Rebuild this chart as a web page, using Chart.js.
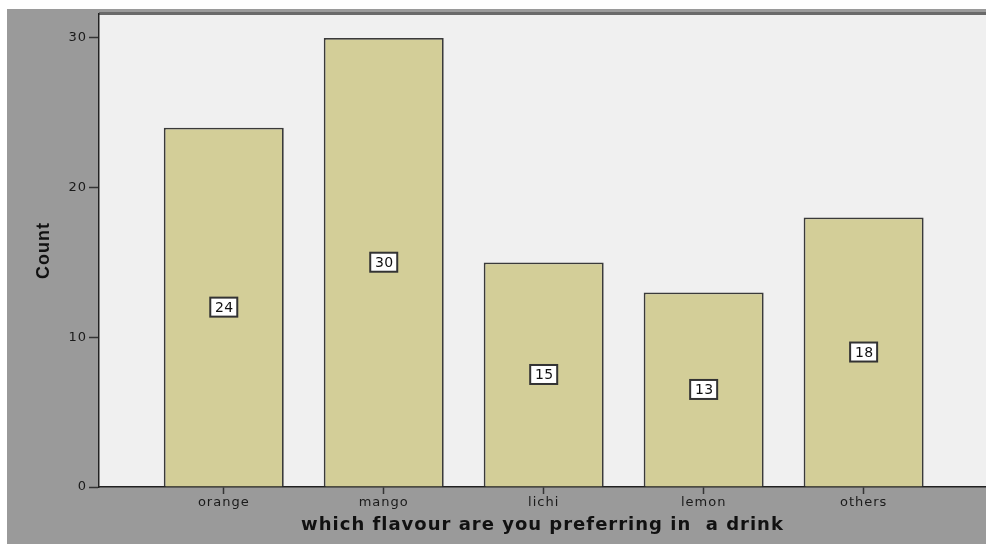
<!DOCTYPE html>
<html>
<head>
<meta charset="utf-8">
<script src="https://cdn.jsdelivr.net/npm/chart.js@4/dist/chart.umd.min.js"></script>
<style>
  html, body { margin: 0; padding: 0; background: #ffffff; }
  #wrap { width: 986px; height: 544px; }
</style>
</head>
<body>
<div id="wrap"><canvas id="c" width="986" height="544"></canvas></div>
<script>
const categories = ['orange', 'mango', 'lichi', 'lemon', 'others'];
const counts = [24, 30, 15, 13, 18];
const yTicks = [0, 10, 20, 30];
const xTitle = 'which flavour are you preferring in  a drink';
const yTitle = 'Count';

const backgroundPlugin = {
  id: 'bgPlugin',
  beforeDraw(chart) {
    const { ctx, chartArea: a, width, height } = chart;
    ctx.save();
    ctx.fillStyle = '#ffffff';
    ctx.fillRect(0, 0, width, height);
    ctx.fillStyle = '#9a9a9a';
    ctx.fillRect(7, 9, width - 7, height - 9);
    ctx.fillStyle = '#f0f0f0';
    ctx.fillRect(a.left, a.top, a.right - a.left, a.bottom - a.top);
    ctx.fillStyle = '#6a6a6a';
    ctx.fillRect(a.left, a.top - 2, a.right - a.left, 3);
    ctx.restore();
    // the reference text is horizontally wide; widen glyph spacing a little
    ctx.letterSpacing = '1px';
  }
};

const valueLabelPlugin = {
  id: 'valueLabels',
  afterDatasetsDraw(chart) {
    const { ctx } = chart;
    const meta = chart.getDatasetMeta(0);
    ctx.save();
    ctx.letterSpacing = '0.3px';
    ctx.font = '14px "DejaVu Sans", sans-serif';
    ctx.textAlign = 'center';
    ctx.textBaseline = 'middle';
    meta.data.forEach((bar, i) => {
      const v = chart.data.datasets[0].data[i].y;
      const cx = bar.x;
      const cy = (bar.y + bar.base) / 2;
      const w = 27, h = 19;
      ctx.fillStyle = '#ffffff';
      ctx.fillRect(cx - w / 2, cy - h / 2, w, h);
      ctx.strokeStyle = '#333333';
      ctx.lineWidth = 2;
      ctx.strokeRect(cx - w / 2, cy - h / 2, w, h);
      ctx.fillStyle = '#111111';
      ctx.fillText(String(v), cx + 0.5, cy + 1);
    });
    ctx.restore();
  }
};

new Chart(document.getElementById('c'), {
  type: 'bar',
  data: {
    datasets: [{
      data: categories.map((c, i) => ({ x: i, y: counts[i] })),
      backgroundColor: '#d3ce98',
      borderColor: '#3a3a3a',
      borderWidth: 1.8,
      barPercentage: 0.75,
      categoryPercentage: 1.0
    }]
  },
  options: {
    responsive: false,
    animation: false,
    devicePixelRatio: 1,
    layout: { padding: { top: 14, left: 0, right: 0, bottom: 0 } },
    plugins: {
      legend: { display: false },
      tooltip: { enabled: false }
    },
    scales: {
      x: {
        type: 'linear',
        min: -0.78,
        max: 4.765,
        offset: false,
        afterFit(scale) { scale.height = 57; },
        grid: { drawOnChartArea: false, drawTicks: true, tickLength: 7, tickColor: '#333333', tickWidth: 1.5, offset: false },
        border: { display: true, color: '#222222', width: 1.5 },
        ticks: {
          stepSize: 1,
          includeBounds: false,
          autoSkip: false,
          maxRotation: 0,
          padding: 1,
          color: '#1a1a1a',
          font: { family: '"DejaVu Sans", sans-serif', size: 13 },
          callback(value) {
            return Number.isInteger(value) && categories[value] !== undefined ? categories[value] : '';
          }
        },
        title: {
          display: true,
          text: xTitle,
          color: '#111111',
          font: { family: '"DejaVu Sans", sans-serif', size: 18, weight: 'bold' },
          padding: { top: 0, bottom: 8 }
        }
      },
      y: {
        min: 0,
        max: 31.6,
        afterFit(scale) { scale.width = 99; },
        afterBuildTicks(scale) { scale.ticks = yTicks.map(v => ({ value: v })); },
        grid: { drawOnChartArea: false, drawTicks: true, tickLength: 10, tickColor: '#333333', tickWidth: 1.5 },
        border: { display: true, color: '#222222', width: 1.5 },
        ticks: {
          padding: 2,
          color: '#1a1a1a',
          font: { family: '"DejaVu Sans", sans-serif', size: 13 }
        },
        title: {
          display: true,
          text: yTitle,
          color: '#111111',
          font: { family: '"Liberation Sans Narrow", "Liberation Sans", sans-serif', size: 18, weight: 'bold' },
          padding: { top: 33, bottom: 0 }
        }
      }
    }
  },
  plugins: [backgroundPlugin, valueLabelPlugin]
});
</script>
</body>
</html>
